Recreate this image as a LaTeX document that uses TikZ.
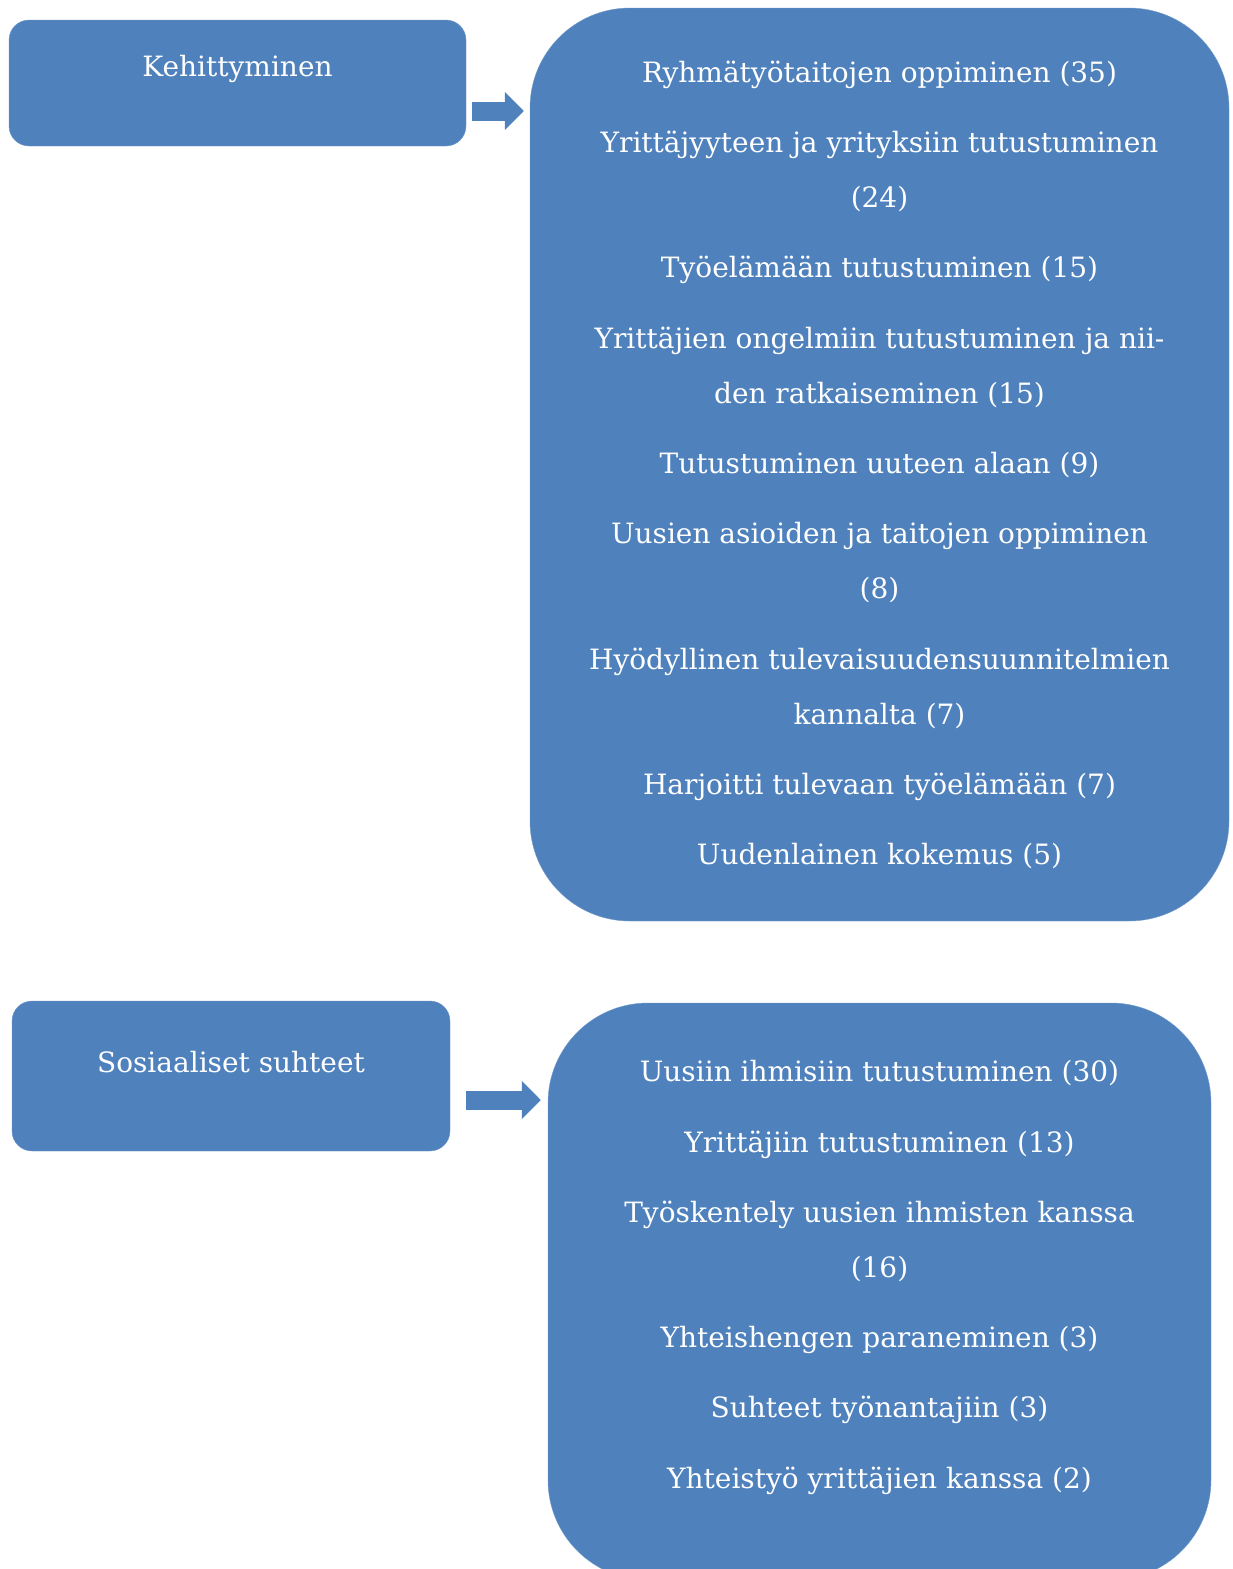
\documentclass[tikz,border=0pt]{standalone}
\usepackage{fontspec}
\setmainfont{DejaVu Serif}
\usetikzlibrary{arrows.meta,positioning,calc}
\definecolor{boxblue}{HTML}{4F81BD}

\begin{document}
\begin{tikzpicture}[x=1pt,y=-1pt,
    catbox/.style={fill=boxblue, draw=boxblue!80!white, rounded corners=20pt, inner sep=0pt},
    listbox/.style={fill=boxblue, draw=boxblue!80!white, rounded corners=100pt, inner sep=0pt},
    boxtext/.style={text=white, font=\fontsize{28}{55}\selectfont, align=center, inner sep=0pt},
    blockarrow/.style={boxblue, line width=19pt, -{Triangle[length=19pt,width=37pt]}}]
  \useasboundingbox (0,0) rectangle (1232,1569);
  % Kehittyminen
  \node[catbox, minimum width=457pt, minimum height=126pt] (kehit) at (237.5,83) {};
  \node[boxtext] (kehit-text) at ([yshift=14pt]kehit.center) {Kehittyminen};
  \node[listbox, minimum width=699pt, minimum height=913pt] (kehitlist) at (879.5,464.5) {};
  \node[boxtext] (kehitlist-text) at ([yshift=-0.5pt]kehitlist.center) {%
    Ryhmätyötaitojen oppiminen (35)\\[15.3pt]
    Yrittäjyyteen ja yrityksiin tutustuminen\\(24)\\[15.3pt]
    Työelämään tutustuminen (15)\\[15.3pt]
    Yrittäjien ongelmiin tutustuminen ja nii-\\den ratkaiseminen (15)\\[15.3pt]
    Tutustuminen uuteen alaan (9)\\[15.3pt]
    Uusien asioiden ja taitojen oppiminen\\(8)\\[15.3pt]
    Hyödyllinen tulevaisuudensuunnitelmien\\kannalta (7)\\[15.3pt]
    Harjoitti tulevaan työelämään (7)\\[15.3pt]
    Uudenlainen kokemus (5)};
  \draw[blockarrow, shorten <=6pt, shorten >=6pt] ([yshift=-28pt]kehit.east) -- ([yshift=-28pt]kehit.east -| kehitlist.west);
  % Sosiaaliset suhteet
  \node[catbox, minimum width=438pt, minimum height=150pt] (sosiaal) at (231,1076) {};
  \node[boxtext] (sosiaal-text) at ([yshift=14pt]sosiaal.center) {Sosiaaliset suhteet};
  \node[listbox, minimum width=663pt, minimum height=577pt] (sosiaallist) at (879.5,1291.5) {};
  \node[boxtext] (sosiaallist-text) at ([yshift=14pt]sosiaallist.center) {%
    Uusiin ihmisiin tutustuminen (30)\\[15.3pt]
    Yrittäjiin tutustuminen (13)\\[15.3pt]
    Työskentely uusien ihmisten kanssa\\(16)\\[15.3pt]
    Yhteishengen paraneminen (3)\\[15.3pt]
    Suhteet työnantajiin (3)\\[15.3pt]
    Yhteistyö yrittäjien kanssa (2)};
  \draw[blockarrow, shorten <=16pt, shorten >=7pt] ([yshift=-24pt]sosiaal.east) -- ([yshift=-24pt]sosiaal.east -| sosiaallist.west);
\end{tikzpicture}
\end{document}
